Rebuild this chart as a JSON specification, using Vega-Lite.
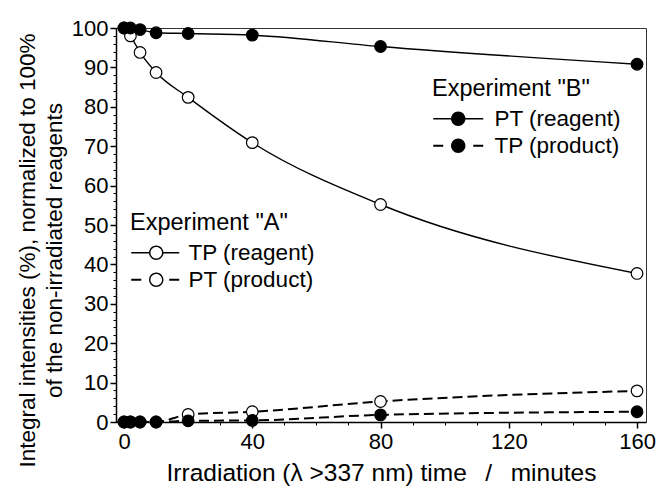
{
  "$schema": "https://vega.github.io/schema/vega-lite/v6.json",
  "width": 530,
  "height": 394,
  "autosize": {"type": "none"},
  "padding": {"left": 116, "top": 28, "right": 12, "bottom": 68},
  "background": "white",
  "config": {
    "view": {"stroke": "#333333", "strokeWidth": 1},
    "font": "Liberation Sans",
    "axis": {"grid": false, "labelColor": "black", "titleColor": "black", "tickColor": "black", "domainColor": "black", "labelFont": "Liberation Sans", "titleFont": "Liberation Sans", "titleFontWeight": "normal"},
    "legend": {"titleFont": "Liberation Sans", "labelFont": "Liberation Sans", "titleFontSize": 23.5, "titleFontWeight": "normal", "titleColor": "black", "labelFontSize": 22.5, "labelColor": "black", "symbolSize": 400, "symbolStrokeWidth": 0, "symbolOpacity": 1, "symbolFillColor": "black", "labelOffset": 40, "rowPadding": 4, "titlePadding": 7, "padding": 0, "orient": "none"}
  },
  "data": {"values": [
    {"exp": "A", "series": "TP (reagent)", "role": "reagent", "t": 0, "v": 100},
    {"exp": "A", "series": "TP (reagent)", "role": "reagent", "t": 2, "v": 98},
    {"exp": "A", "series": "TP (reagent)", "role": "reagent", "t": 5, "v": 93.8},
    {"exp": "A", "series": "TP (reagent)", "role": "reagent", "t": 10, "v": 88.7},
    {"exp": "A", "series": "TP (reagent)", "role": "reagent", "t": 20, "v": 82.4},
    {"exp": "A", "series": "TP (reagent)", "role": "reagent", "t": 40, "v": 70.9},
    {"exp": "A", "series": "TP (reagent)", "role": "reagent", "t": 80, "v": 55.2},
    {"exp": "A", "series": "TP (reagent)", "role": "reagent", "t": 160, "v": 37.7},
    {"exp": "A", "series": "PT (product)", "role": "product", "t": 0, "v": 0},
    {"exp": "A", "series": "PT (product)", "role": "product", "t": 2, "v": 0},
    {"exp": "A", "series": "PT (product)", "role": "product", "t": 5, "v": 0},
    {"exp": "A", "series": "PT (product)", "role": "product", "t": 10, "v": 0},
    {"exp": "A", "series": "PT (product)", "role": "product", "t": 20, "v": 1.9},
    {"exp": "A", "series": "PT (product)", "role": "product", "t": 40, "v": 2.6},
    {"exp": "A", "series": "PT (product)", "role": "product", "t": 80, "v": 5.2},
    {"exp": "A", "series": "PT (product)", "role": "product", "t": 160, "v": 7.9},
    {"exp": "B", "series": "PT (reagent)", "role": "reagent", "t": 0, "v": 100},
    {"exp": "B", "series": "PT (reagent)", "role": "reagent", "t": 2, "v": 100},
    {"exp": "B", "series": "PT (reagent)", "role": "reagent", "t": 5, "v": 99.6},
    {"exp": "B", "series": "PT (reagent)", "role": "reagent", "t": 10, "v": 98.8},
    {"exp": "B", "series": "PT (reagent)", "role": "reagent", "t": 20, "v": 98.6},
    {"exp": "B", "series": "PT (reagent)", "role": "reagent", "t": 40, "v": 98.2},
    {"exp": "B", "series": "PT (reagent)", "role": "reagent", "t": 80, "v": 95.3},
    {"exp": "B", "series": "PT (reagent)", "role": "reagent", "t": 160, "v": 90.8},
    {"exp": "B", "series": "TP (product)", "role": "product", "t": 0, "v": 0},
    {"exp": "B", "series": "TP (product)", "role": "product", "t": 2, "v": 0},
    {"exp": "B", "series": "TP (product)", "role": "product", "t": 5, "v": 0},
    {"exp": "B", "series": "TP (product)", "role": "product", "t": 10, "v": 0},
    {"exp": "B", "series": "TP (product)", "role": "product", "t": 20, "v": 0.3},
    {"exp": "B", "series": "TP (product)", "role": "product", "t": 40, "v": 0.4},
    {"exp": "B", "series": "TP (product)", "role": "product", "t": 80, "v": 1.8},
    {"exp": "B", "series": "TP (product)", "role": "product", "t": 160, "v": 2.6}
  ]},
  "resolve": {"scale": {"shape": "independent"}, "axis": {"x": "independent", "y": "independent"}},
  "layer": [
    {
      "transform": [{"filter": "datum.role === 'reagent'"}],
      "mark": {"type": "line", "interpolate": "monotone", "stroke": "black", "strokeWidth": 1.4},
      "encoding": {
        "x": {"field": "t", "type": "quantitative", "scale": {"domain": [-2.5, 162.8], "nice": false, "zero": false},
          "axis": {"orient": "bottom", "values": [0, 40, 80, 120, 160], "tickSize": 6, "tickWidth": 1.5, "domainWidth": 1.5, "labelFontSize": 22, "labelPadding": 3, "labelFlush": false, "labelOverlap": false,
            "title": "Irradiation (λ >337 nm) time\u00a0\u00a0\u2009/\u00a0\u00a0\u2009minutes", "titleFontSize": 24.5, "titleY": 58, "titleBaseline": "alphabetic", "titleX": 265, "titleAnchor": "middle"}},
        "y": {"field": "v", "type": "quantitative", "scale": {"domain": [0, 100], "nice": false},
          "axis": {"orient": "left", "values": [0, 10, 20, 30, 40, 50, 60, 70, 80, 90, 100], "tickSize": 6, "tickWidth": 1.5, "domainWidth": 1.5, "labelFontSize": 22, "labelPadding": 2, "labelOverlap": false,
            "title": ["Integral intensities (%), normalized to 100%", "of the non-irradiated reagents"], "titleFontSize": 22.5, "titleAngle": -90, "titleX": -100, "titleY": 222, "titleBaseline": "top", "titleAlign": "center", "titleLineHeight": 27}},
        "detail": {"field": "series"}
      }
    },
    {
      "transform": [{"filter": "datum.role === 'product'"}],
      "mark": {"type": "line", "interpolate": "monotone", "stroke": "black", "strokeWidth": 2, "strokeDash": [10, 5]},
      "encoding": {
        "x": {"field": "t", "type": "quantitative",
          "axis": {"orient": "bottom", "values": [0, 10, 20, 30, 40, 50, 60, 70, 80, 90, 100, 110, 120, 130, 140, 150, 160], "tickSize": 3, "tickWidth": 1, "domain": false, "labels": false, "title": null}},
        "y": {"field": "v", "type": "quantitative",
          "axis": {"orient": "left", "values": [0, 2, 4, 6, 8, 10, 12, 14, 16, 18, 20, 22, 24, 26, 28, 30, 32, 34, 36, 38, 40, 42, 44, 46, 48, 50, 52, 54, 56, 58, 60, 62, 64, 66, 68, 70, 72, 74, 76, 78, 80, 82, 84, 86, 88, 90, 92, 94, 96, 98, 100], "tickSize": 3, "tickWidth": 1, "domain": false, "labels": false, "title": null}},
        "detail": {"field": "series"}
      }
    },
    {
      "transform": [{"filter": "datum.exp === 'A'"}],
      "mark": {"type": "point", "shape": "circle", "filled": true, "fill": "white", "stroke": "black", "strokeWidth": 1.2, "size": 135, "opacity": 1},
      "encoding": {
        "x": {"field": "t", "type": "quantitative", "axis": null},
        "y": {"field": "v", "type": "quantitative", "axis": null}
      }
    },
    {
      "transform": [{"filter": "datum.exp === 'B'"}],
      "mark": {"type": "point", "shape": "circle", "filled": true, "fill": "black", "stroke": "black", "strokeWidth": 1.2, "size": 135, "opacity": 1},
      "encoding": {
        "x": {"field": "t", "type": "quantitative", "axis": null},
        "y": {"field": "v", "type": "quantitative", "axis": null}
      }
    },
    {
      "transform": [{"filter": "datum.exp === 'A'"}],
      "mark": {"type": "point", "filled": true, "fill": "black", "strokeWidth": 0, "opacity": 0},
      "encoding": {
        "x": {"field": "t", "type": "quantitative", "axis": null},
        "y": {"field": "v", "type": "quantitative", "axis": null},
        "shape": {"field": "series", "type": "nominal",
          "scale": {"domain": ["TP (reagent)", "PT (product)"], "range": [
            "M-1,-0.075H0.8V0.075H-1ZM2.2,-0.075H3.8V0.075H2.2ZM0.78,0A0.72,0.72,0,1,1,2.22,0A0.72,0.72,0,1,1,0.78,0ZM0.92,0A0.58,0.58,0,1,0,2.08,0A0.58,0.58,0,1,0,0.92,0Z",
            "M-1,-0.1H0V0.1H-1ZM2.8,-0.1H3.8V0.1H2.8ZM0.78,0A0.72,0.72,0,1,1,2.22,0A0.72,0.72,0,1,1,0.78,0ZM0.92,0A0.58,0.58,0,1,0,2.08,0A0.58,0.58,0,1,0,0.92,0Z"]},
          "legend": {"title": "Experiment \"A\"", "orient": "none", "legendX": 14, "legendY": 183, "labelOffset": 36, "symbolOpacity": 1, "symbolFillColor": "black", "symbolStrokeWidth": 0}}
      }
    },
    {
      "transform": [{"filter": "datum.exp === 'B'"}],
      "mark": {"type": "point", "filled": true, "fill": "black", "strokeWidth": 0, "opacity": 0},
      "encoding": {
        "x": {"field": "t", "type": "quantitative", "axis": null},
        "y": {"field": "v", "type": "quantitative", "axis": null},
        "shape": {"field": "series", "type": "nominal",
          "scale": {"domain": ["PT (reagent)", "TP (product)"], "range": [
            "M-1,-0.075H0.85V0.075H-1ZM2.15,-0.075H4V0.075H2.15ZM0.78,0A0.72,0.72,0,1,1,2.22,0A0.72,0.72,0,1,1,0.78,0Z",
            "M-1,-0.1H0V0.1H-1ZM3,-0.1H4V0.1H3ZM0.78,0A0.72,0.72,0,1,1,2.22,0A0.72,0.72,0,1,1,0.78,0Z"]},
          "legend": {"title": "Experiment \"B\"", "orient": "none", "legendX": 316, "legendY": 49, "symbolOpacity": 1, "symbolFillColor": "black", "symbolStrokeWidth": 0}}
      }
    }
  ]
}
